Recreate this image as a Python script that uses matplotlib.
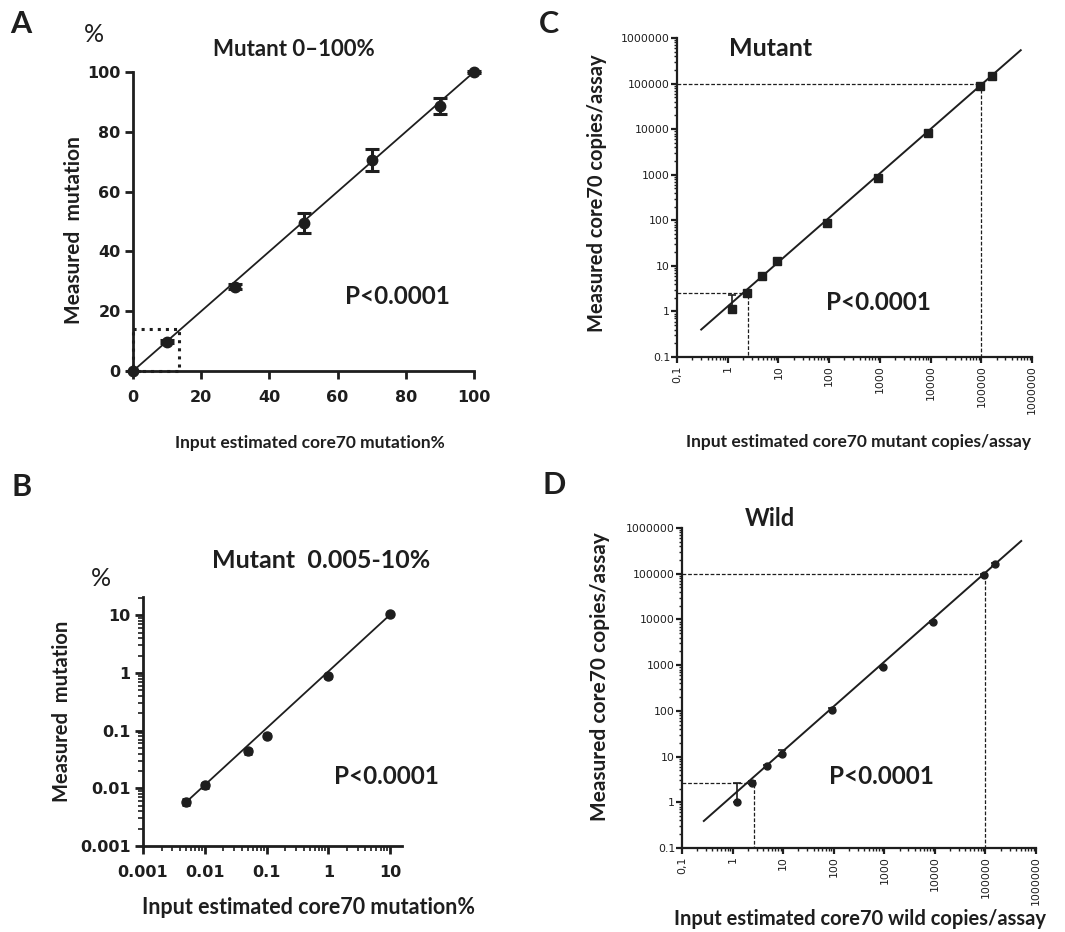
import matplotlib
matplotlib.use("Agg")
import matplotlib.pyplot as plt
from matplotlib.ticker import LogLocator, NullFormatter, FixedLocator

W, H = 1065, 932
INK = "#1e1e1e"
LBL = ["Lato", "DejaVu Sans"]
NARROW = ["Liberation Sans Narrow", "DejaVu Sans"]

# --- panel A: mutant 0-100 % (linear) ---
a_x = [0, 10, 30, 50, 70, 90, 100]
a_y = [0, 9.8, 28.2, 49.4, 70.6, 88.7, 100]
a_err = [0, 0.6, 0.8, 3.3, 3.8, 2.6, 0.5]
a_fit_x = [0, 100]
a_fit_y = [0, 100]
a_box = (13.4, 14.1)

# --- panel B: mutant 0.005-10 % (log) ---
b_x = [0.005, 0.01, 0.05, 0.1, 1, 10]
b_y = [0.0058, 0.0112, 0.044, 0.082, 0.87, 10.4]
b_err = [0.0006, 0.0010, 0.004, 0.004, 0.04, 0.3]
b_fit_x = [0.0045, 10]
b_fit_y = [0.0052, 10.2]

# --- panel C: mutant copies/assay (log-log) ---
c_x = [1.2, 2.4, 4.7, 9.4, 91, 935, 9100, 96000, 160000]
c_y = [1.12, 2.6, 6.0, 12.5, 86, 830, 8300, 87000, 145000]
c_err_lo = [0.1, 0.2, 0.4, 0.8, 5, 50, 500, 4000, 15000]
c_err_hi = [1.2, 0.2, 0.4, 0.8, 5, 50, 500, 4000, 15000]
c_fit_x = [0.3, 6.0e5]
c_fit_y = [0.4, 5.4e5]
c_ref = [(2.5, 2.5), (1e5, 1e5)]

# --- panel D: wild copies/assay (log-log) ---
d_x = [1.22, 2.4, 4.8, 9.7, 93, 930, 9200, 93000, 155000]
d_y = [1.02, 2.66, 6.2, 11.3, 107, 930, 8700, 93000, 160000]
d_err_lo = [0, 0.2, 0.5, 1.0, 6, 50, 500, 4000, 12000]
d_err_hi = [1.6, 0.2, 0.5, 2.7, 6, 50, 500, 4000, 12000]
d_fit_x = [0.27, 5.1e5]
d_fit_y = [0.39, 5.2e5]
d_ref = [(2.6, 2.6), (1e5, 1e5)]

log_ticks = [0.1, 1, 10, 100, 1000, 10000, 100000, 1000000]
log_ytick_labels = ["0.1", "1", "10", "100", "1000", "10000", "100000", "1000000"]
log_xtick_labels = ["0,1", "1", "10", "100", "1000", "10000", "100000", "1000000"]
b_ticks = [0.001, 0.01, 0.1, 1, 10]
b_tick_labels = ["0.001", "0.01", "0.1", "1", "10"]


def px_axes(fig, left, right, top, bottom):
    return fig.add_axes([left / W, 1 - bottom / H, (right - left) / W, (bottom - top) / H])


def ptxt(x, y, s, size, bold=True, rot=0, family=LBL):
    # text centred on a pixel position of the figure
    fig.text(x / W, 1 - y / H, s, family=family, fontsize=size, color=INK,
             fontweight="bold" if bold else "normal", rotation=rot,
             ha="center", va="center")


def style(ax, lw=1.8):
    for s in ("top", "right"):
        ax.spines[s].set_visible(False)
    for s in ("left", "bottom"):
        ax.spines[s].set_linewidth(lw)
        ax.spines[s].set_color(INK)
    ax.tick_params(which="major", length=6, width=lw, color=INK, labelcolor=INK)
    ax.tick_params(which="minor", length=3.5, width=1.2, color=INK)


fig = plt.figure(figsize=(W / 100, H / 100), dpi=100)
fig.patch.set_facecolor("white")

# ================= A =================
ax = px_axes(fig, 133, 474, 72, 371)
style(ax, 2.0)
ax.set_xlim(0, 100)
ax.set_ylim(0, 100)
ax.set_xticks([0, 20, 40, 60, 80, 100])
ax.set_yticks([0, 20, 40, 60, 80, 100])
for lab in ax.get_xticklabels() + ax.get_yticklabels():
    lab.set_family(NARROW)
    lab.set_fontweight("bold")
    lab.set_fontsize(11.5)
ax.tick_params(axis="x", pad=8)
ax.tick_params(axis="y", pad=3)
ax.plot(a_fit_x, a_fit_y, color=INK, lw=1.3, clip_on=False)
ax.errorbar(a_x, a_y, yerr=a_err, fmt="o", ms=7.5, color=INK, ecolor=INK,
            elinewidth=2.2, capsize=5, capthick=2.2, clip_on=False, zorder=3)
bx, by = a_box
ax.plot([0, bx, bx, 0, 0], [by, by, 0, 0, by], ls=":", lw=2.2, color=INK, clip_on=False)
ptxt(294, 49, "Mutant 0\u2013100%", 16)
ptxt(310, 443, "Input estimated core70 mutation%", 12.5)
ptxt(74, 230, "Measured  mutation", 15, rot=90)
ptxt(397, 297, "P<0.0001", 17.5)

# ================= B =================
ax = px_axes(fig, 143, 402, 597, 846)
style(ax, 2.0)
ax.set_xscale("log")
ax.set_yscale("log")
ax.set_xlim(0.001, 15.6)
ax.set_ylim(0.001, 20.7)
ax.xaxis.set_major_locator(FixedLocator(b_ticks))
ax.yaxis.set_major_locator(FixedLocator(b_ticks))
ax.xaxis.set_minor_locator(LogLocator(base=10, subs=range(2, 10), numticks=20))
ax.yaxis.set_minor_locator(LogLocator(base=10, subs=range(2, 10), numticks=20))
ax.xaxis.set_minor_formatter(NullFormatter())
ax.yaxis.set_minor_formatter(NullFormatter())
ax.set_xticklabels(b_tick_labels, family=NARROW, fontweight="bold", fontsize=11.5)
ax.set_yticklabels(b_tick_labels, family=NARROW, fontweight="bold", fontsize=11.5)
ax.tick_params(axis="x", pad=8)
ax.tick_params(axis="y", pad=3)
ax.plot(b_fit_x, b_fit_y, color=INK, lw=1.3)
ax.errorbar(b_x, b_y, yerr=b_err, fmt="o", ms=6.5, color=INK, ecolor=INK,
            elinewidth=2, capsize=3, capthick=2, zorder=3)
ptxt(321, 560, "Mutant  0.005-10%", 18)
ptxt(309, 907, "Input estimated core70 mutation%", 15.5)
ptxt(62, 711, "Measured  mutation", 14.5, rot=90)
ptxt(386, 777, "P<0.0001", 17.5)


# ================= C & D =================
def loglog_panel(left, right, top, bottom, xs, ys, err_lo, err_hi, fit_x, fit_y,
                 refs, marker, ms):
    ax = px_axes(fig, left, right, top, bottom)
    style(ax, 1.6)
    ax.set_xscale("log")
    ax.set_yscale("log")
    ax.set_xlim(0.1, 1e6)
    ax.set_ylim(0.1, 1e6)
    ax.xaxis.set_major_locator(FixedLocator(log_ticks))
    ax.yaxis.set_major_locator(FixedLocator(log_ticks))
    ax.xaxis.set_minor_locator(LogLocator(base=10, subs=range(2, 10), numticks=20))
    ax.yaxis.set_minor_locator(LogLocator(base=10, subs=range(2, 10), numticks=20))
    ax.xaxis.set_minor_formatter(NullFormatter())
    ax.yaxis.set_minor_formatter(NullFormatter())
    ax.tick_params(which="major", length=4)
    ax.tick_params(which="minor", length=2.5, width=1)
    ax.set_xticklabels(log_xtick_labels, family=NARROW, fontsize=7.8, rotation=90, color=INK)
    ax.set_yticklabels(log_ytick_labels, family=NARROW, fontsize=7.8, color=INK)
    ax.tick_params(axis="y", pad=1)
    ax.tick_params(axis="x", pad=2)
    for rx, ry in refs:
        ax.plot([0.1, rx, rx], [ry, ry, 0.1], ls=(0, (3, 1.5)), lw=0.9, color=INK)
    ax.plot(fit_x, fit_y, color=INK, lw=1.4)
    ax.errorbar(xs, ys, yerr=[err_lo, err_hi], fmt=marker, ms=ms, color=INK,
                ecolor=INK, elinewidth=1.2, capsize=3, capthick=1.2, zorder=3)
    return ax


loglog_panel(677, 1032, 38, 357, c_x, c_y, c_err_lo, c_err_hi, c_fit_x, c_fit_y,
             c_ref, "s", 5.5)
ptxt(771, 49, "Mutant", 18)
ptxt(859, 442, "Input estimated core70 mutant copies/assay", 12.5)
ptxt(597, 193, "Measured core70 copies/assay", 14.5, rot=90)
ptxt(878, 302, "P<0.0001", 17.5)

loglog_panel(682, 1036, 528, 848, d_x, d_y, d_err_lo, d_err_hi, d_fit_x, d_fit_y,
             d_ref, "o", 5)
ptxt(770, 519, "Wild", 17)
ptxt(860, 919, "Input estimated core70 wild copies/assay", 14.5)
ptxt(600, 677, "Measured core70 copies/assay", 15, rot=90)
ptxt(881, 777, "P<0.0001", 17.5)

# panel letters and "%" unit marks
for letter, x, y in [("A", 21, 24), ("B", 22, 487), ("C", 549, 24), ("D", 554, 485)]:
    ptxt(x, y, letter, 22)
ptxt(94, 35, "%", 18, bold=False)
ptxt(101, 578, "%", 18, bold=False)

fig.savefig("out.png", dpi=100, facecolor="white")
